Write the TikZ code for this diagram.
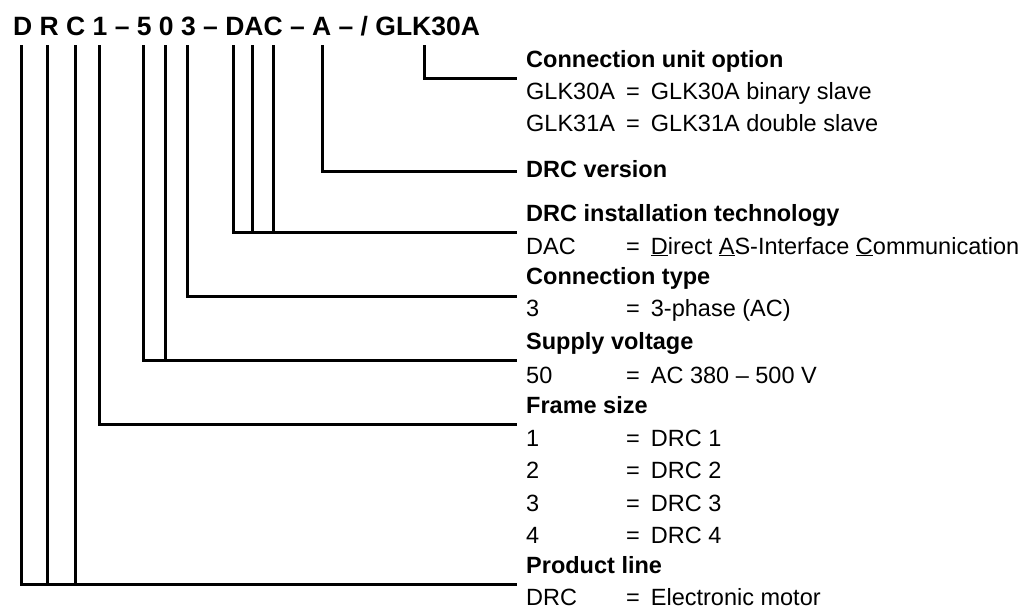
\documentclass[tikz,border=0pt]{standalone}
\usepackage{fontspec}
\setmainfont{Liberation Sans}
\usepackage{tikz}
\usetikzlibrary{positioning}
\newcommand{\keyval}[2]{\makebox[100pt][l]{#1}=\hspace{11pt}#2}

\begin{document}
\begin{tikzpicture}[x=1pt, y=-1pt,
  code/.style={anchor=base west, inner sep=0pt,
               font=\fontsize{26.5}{30}\selectfont\bfseries},
  head/.style={anchor=base west, inner sep=0pt,
               font=\fontsize{23.5}{28}\selectfont\bfseries},
  entry/.style={anchor=base west, inner sep=0pt,
                font=\fontsize{23.5}{28}\selectfont},
  lead/.style={draw=black, line width=3pt, line cap=rect},
]
  \useasboundingbox (0,0) rectangle (1032,608);

  % Type designation ---------------------------------------------------------
  \node[code] (code) at (13,35) {D R C 1 – 5 0 3 – DAC – A – / GLK30A};

  % taps below the characters
  \coordinate (tD)  at (21,46);
  \coordinate (tR)  at (47,46);
  \coordinate (tC)  at (75,46);
  \coordinate (t1)  at (99,46);
  \coordinate (t5)  at (143,46);
  \coordinate (t0)  at (165,46);
  \coordinate (t3)  at (187,46);
  \coordinate (tDd) at (233,46);
  \coordinate (tDa) at (252,46);
  \coordinate (tDc) at (273,46);
  \coordinate (tA)  at (322,46);
  \coordinate (tG)  at (424,46);

  % Legend -------------------------------------------------------------------
  \node[head]  (hunit) at (526,67)  {Connection unit option};
  \node[entry] (unit1) at (526,99)  {\keyval{GLK30A}{GLK30A binary slave}};
  \node[entry] (unit2) at (526,131) {\keyval{GLK31A}{GLK31A double slave}};

  \node[head]  (hver)  at (526,177) {DRC version};

  \node[head]  (hinst) at (526,221) {DRC installation technology};
  \node[entry] (inst1) at (526,254)
    {\keyval{DAC}{\underline{D}irect \underline{A}S-Interface \underline{C}ommunication}};

  \node[head]  (htype) at (526,284) {Connection type};
  \node[entry] (type1) at (526,316) {\keyval{3}{3-phase (AC)}};

  \node[head]  (hvolt) at (526,349) {Supply voltage};
  \node[entry] (volt1) at (526,383) {\keyval{50}{AC 380 – 500 V}};

  \node[head]  (hsize) at (526,413) {Frame size};
  \node[entry] (size1) at (526,446) {\keyval{1}{DRC 1}};
  \node[entry] (size2) at (526,478) {\keyval{2}{DRC 2}};
  \node[entry] (size3) at (526,511) {\keyval{3}{DRC 3}};
  \node[entry] (size4) at (526,543) {\keyval{4}{DRC 4}};

  \node[head]  (hline) at (526,573) {Product line};
  \node[entry] (line1) at (526,605) {\keyval{DRC}{Electronic motor}};

  % leader ends
  \coordinate (eunit) at (515,78);
  \coordinate (ever)  at (515,171);
  \coordinate (einst) at (515,232);
  \coordinate (etype) at (515,296);
  \coordinate (evolt) at (515,360);
  \coordinate (esize) at (515,424);
  \coordinate (eline) at (515,584);

  % Leaders ------------------------------------------------------------------
  \draw[lead] (tG) |- (eunit);
  \draw[lead] (tA) |- (ever);
  \draw[lead] (tDd) |- (einst);
  \draw[lead] (tDa) -- (tDa |- einst) (tDc) -- (tDc |- einst);
  \draw[lead] (t3) |- (etype);
  \draw[lead] (t5) |- (evolt);
  \draw[lead] (t0) -- (t0 |- evolt);
  \draw[lead] (t1) |- (esize);
  \draw[lead] (tD) |- (eline);
  \draw[lead] (tR) -- (tR |- eline) (tC) -- (tC |- eline);
\end{tikzpicture}
\end{document}
